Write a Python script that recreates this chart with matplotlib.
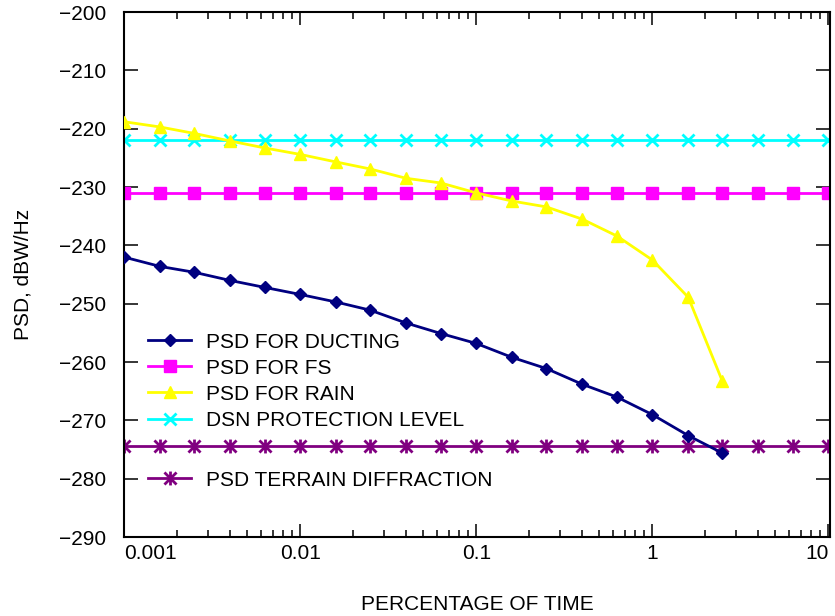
import matplotlib
matplotlib.use("Agg")
import matplotlib.pyplot as plt
from matplotlib.path import Path
from matplotlib.ticker import NullFormatter, LogLocator

plt.rcParams['font.family'] = ['Liberation Sans', 'DejaVu Sans']

# percentage of time (log axis)
pct = [0.001, 0.0016, 0.0025, 0.004, 0.0063, 0.01, 0.016, 0.025, 0.04, 0.063,
       0.1, 0.16, 0.25, 0.4, 0.63, 1.0, 1.6, 2.5, 4.0, 6.3, 10.0]

psd_ducting = [-242.0, -243.6, -244.6, -246.0, -247.2, -248.4, -249.7, -251.1, -253.3,
               -255.1, -256.8, -259.2, -261.1, -263.8, -266.0, -269.0, -272.6, -275.6]
psd_rain = [-218.8, -219.7, -220.8, -222.1, -223.3, -224.4, -225.7, -226.9, -228.5,
            -229.3, -231.0, -232.4, -233.4, -235.5, -238.4, -242.5, -248.9, -263.3]
psd_fs = [-231.0] * len(pct)
dsn_level = [-222.0] * len(pct)
psd_terrain = [-274.4] * len(pct)

x_ticks = [0.001, 0.01, 0.1, 1, 10]
x_ticklabels = ["0.001", "0.01", "0.1", "1", "10"]
y_ticks = list(range(-290, -199, 10))

# asterisk: an x with a vertical stroke
star = Path([(-1, -1), (1, 1), (1, -1), (-1, 1), (0, -1.15), (0, 1.15)],
            [Path.MOVETO, Path.LINETO, Path.MOVETO, Path.LINETO, Path.MOVETO, Path.LINETO])

fig = plt.figure(figsize=(8.35, 6.16), dpi=100)
ax = fig.add_axes([0.1485, 0.128, 0.8455, 0.8525])

l1, = ax.plot(pct[:len(psd_ducting)], psd_ducting, color='#000080', lw=2, marker='D', ms=6.5, zorder=4)
l2, = ax.plot(pct, psd_fs, color='#FF00FF', lw=2, marker='s', ms=8, zorder=2)
l3, = ax.plot(pct[:len(psd_rain)], psd_rain, color='#FFFF00', lw=2, marker='^', ms=8.5, zorder=3)
l4, = ax.plot(pct, dsn_level, color='#00FFFF', lw=2, marker='x', ms=9, mew=2, zorder=2)
l5, = ax.plot(pct, psd_terrain, color='#800080', lw=2, marker=star, ms=10, mew=2, zorder=2)

ax.set_xscale('log')
ax.set_xlim(0.001, 10.2)
ax.set_ylim(-290, -200)

ax.set_xticks(x_ticks, x_ticklabels)
ax.xaxis.set_minor_locator(LogLocator(base=10, subs=range(2, 10)))
ax.xaxis.set_minor_formatter(NullFormatter())
labels = ax.get_xticklabels()
labels[0].set_ha('left')
labels[-1].set_ha('right')
ax.set_yticks(y_ticks)

ax.tick_params(axis='both', which='both', direction='in', top=True, right=True, width=1.1, labelsize=15)
ax.tick_params(axis='x', which='major', length=9.5, pad=5)
ax.tick_params(axis='x', which='minor', length=5)
ax.tick_params(axis='y', which='major', length=10, pad=13)
for s in ax.spines.values():
    s.set_linewidth(1.5)

ax.set_xlabel("PERCENTAGE OF TIME", fontsize=15, labelpad=23)
ax.set_ylabel("PSD, dBW/Hz", fontsize=15, labelpad=19)

leg_kw = dict(frameon=False, fontsize=15, borderpad=0, borderaxespad=0, handlelength=2.07,
              handletextpad=0.72, labelspacing=0.34, numpoints=1, loc='center left')
leg1 = ax.legend([l1, l2, l3, l4],
                 ["PSD FOR DUCTING", "PSD FOR FS", "PSD FOR RAIN", "DSN PROTECTION LEVEL"],
                 bbox_to_anchor=(0.034, 0.297), **leg_kw)
ax.add_artist(leg1)
ax.legend([l5], ["PSD TERRAIN DIFFRACTION"], bbox_to_anchor=(0.034, 0.1086), **leg_kw)

fig.savefig("out.png", dpi=100)
